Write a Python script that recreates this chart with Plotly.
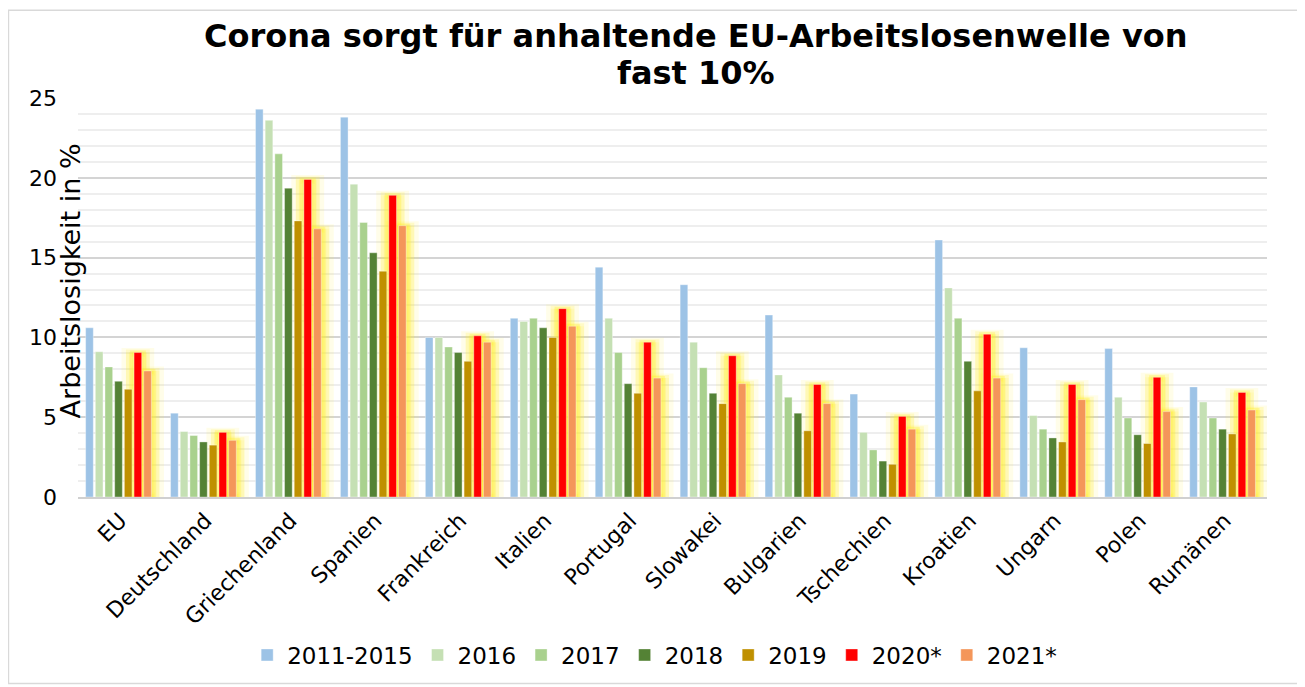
import plotly.graph_objects as go

# Categories and series (Arbeitslosigkeit in %)
laender = ['EU', 'Deutschland', 'Griechenland', 'Spanien', 'Frankreich', 'Italien',
           'Portugal', 'Slowakei', 'Bulgarien', 'Tschechien', 'Kroatien', 'Ungarn',
           'Polen', 'Rumänen']

jahre = ['2011-2015', '2016', '2017', '2018', '2019', '2020*', '2021*']

w_2011_2015 = [10.6, 5.25, 24.3, 23.8, 10.0, 11.2, 14.4, 13.3, 11.4, 6.45, 16.1, 9.35, 9.3, 6.9]
w_2016 = [9.1, 4.1, 23.6, 19.6, 10.0, 11.0, 11.2, 9.7, 7.65, 4.05, 13.1, 5.1, 6.25, 5.95]
w_2017 = [8.15, 3.85, 21.5, 17.2, 9.4, 11.2, 9.05, 8.1, 6.25, 2.95, 11.2, 4.25, 4.95, 4.95]
w_2018 = [7.25, 3.45, 19.35, 15.3, 9.05, 10.6, 7.1, 6.5, 5.25, 2.25, 8.5, 3.7, 3.9, 4.25]
w_2019 = [6.75, 3.25, 17.3, 14.15, 8.5, 10.0, 6.5, 5.85, 4.15, 2.05, 6.65, 3.45, 3.35, 3.95]
w_2020 = [9.05, 4.05, 19.9, 18.9, 10.1, 11.8, 9.7, 8.85, 7.05, 5.05, 10.2, 7.05, 7.5, 6.55]
w_2021 = [7.9, 3.55, 16.8, 17.0, 9.7, 10.7, 7.45, 7.1, 5.85, 4.25, 7.45, 6.1, 5.35, 5.45]

reihen = [w_2011_2015, w_2016, w_2017, w_2018, w_2019, w_2020, w_2021]
farben = ['#9DC3E6', '#C5E0B4', '#A9D18E', '#548235', '#BF9000', '#FF0000', '#F4965A']
glow = [False, False, False, False, False, True, True]

slot = 0.114
bar_w = 0.09
start = -0.41

fig = go.Figure()

# yellow glow behind the forecast bars (2020*, 2021*)
for i, (vals, g) in enumerate(zip(reihen, glow)):
    if not g:
        continue
    for extra, alpha, lw in [(0.19, 0.1, 9), (0.12, 0.18, 6), (0.05, 0.3, 4)]:
        fig.add_trace(go.Bar(
            x=laender, y=vals,
            width=bar_w + extra,
            offset=start + i * slot - extra / 2,
            marker=dict(color='rgba(255,240,40,%s)' % alpha,
                        line=dict(color='rgba(255,240,40,%s)' % alpha, width=lw)),
            showlegend=False, hoverinfo='skip'
        ))

for i, (name, vals, col) in enumerate(zip(jahre, reihen, farben)):
    fig.add_trace(go.Bar(
        x=laender, y=vals, name=name,
        width=bar_w,
        offset=start + i * slot,
        marker=dict(color=col, line=dict(color='rgba(255,255,255,0.6)', width=0.6)),
        hovertemplate='%{x}<br>' + name + ': %{y:.1f}%<extra></extra>'
    ))

# title lines and y-axis title as annotations (Excel-style placement)
fig.add_annotation(text='<b>Corona sorgt für anhaltende EU-Arbeitslosenwelle von</b>',
                   xref='paper', yref='paper', x=0.52, y=1.155,
                   xanchor='center', yanchor='middle', showarrow=False,
                   font=dict(size=32, color='black'))
fig.add_annotation(text='<b>fast 10%</b>',
                   xref='paper', yref='paper', x=0.52, y=1.0625,
                   xanchor='center', yanchor='middle', showarrow=False,
                   font=dict(size=32, color='black'))
fig.add_annotation(text='Arbeitslosigkeit in %',
                   xref='paper', yref='paper', x=-0.006, y=0.5425,
                   xanchor='center', yanchor='middle', textangle=-90, showarrow=False,
                   font=dict(size=27, color='black'))

fig.update_layout(
    barmode='overlay',
    width=1297, height=679,
    margin=dict(l=70, r=38, t=90, b=189),
    paper_bgcolor='white',
    plot_bgcolor='white',
    font=dict(family='DejaVu Sans, Verdana, sans-serif', size=20, color='black'),
    legend=dict(
        orientation='h',
        x=0.485, xanchor='center',
        y=-0.3925, yanchor='middle',
        font=dict(size=23),
        traceorder='normal'
    ),
    shapes=[dict(
        type='rect', xref='paper', yref='paper',
        x0=-0.0585, x1=1.0303, y0=-0.4675, y1=1.22,
        line=dict(color='#d9d9d9', width=1.5), fillcolor='rgba(0,0,0,0)'
    )]
)

fig.update_xaxes(
    type='category',
    tickangle=-45,
    tickfont=dict(size=22),
    showgrid=False,
    showline=True, linecolor='#d0d0d0', linewidth=2,
    ticks=''
)

fig.update_yaxes(
    range=[0, 25],
    dtick=5,
    tickfont=dict(size=22),
    ticklabelstandoff=20,
    showgrid=True, gridcolor='#d4d4d4', gridwidth=1.5,
    minor=dict(dtick=1, showgrid=True, gridcolor='#eeeeee', gridwidth=1.5),
    zeroline=False,
    ticks=''
)

fig.write_html('out.html')
